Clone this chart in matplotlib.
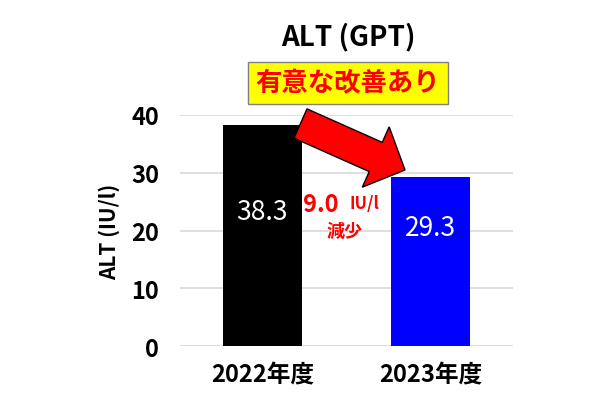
import matplotlib
matplotlib.use('Agg')
import matplotlib.pyplot as plt
from matplotlib.patches import FancyArrow

plt.rcParams['font.family'] = ['Noto Sans CJK JP', 'DejaVu Sans']

years = ['2022年度', '2023年度']
alt_values = [38.3, 29.3]
bar_colors = ['#000000', '#0000FF']
yticks = [0, 10, 20, 30, 40]
label_frac = [0.61, 0.70]

fig = plt.figure(figsize=(6, 4.06), dpi=100)
ax = fig.add_axes([0.30, 0.1453, 0.555, 0.569])

x = list(range(len(years)))
bars = ax.bar(x, alt_values, width=0.47, color=bar_colors, zorder=3)

for b, v, f in zip(bars, alt_values, label_frac):
    ax.text(b.get_x() + b.get_width() / 2, v * f, '%.1f' % v,
            ha='center', va='center', color='white', fontsize=19, zorder=4)

ax.set_xlim(-0.49, 1.49)
ax.set_ylim(0, 40)
ax.set_yticks(yticks)
ax.set_xticks(x)
ax.set_xticklabels(years, fontsize=17, fontweight='bold')
ax.set_yticklabels([str(t) for t in yticks], fontsize=17, fontweight='bold')
ax.tick_params(axis='y', length=0, pad=15)
ax.tick_params(axis='x', length=0, pad=12)
ax.grid(axis='y', color='#d9d9d9', linewidth=1.2, zorder=0)
for s in ax.spines.values():
    s.set_visible(False)
ax.set_ylabel('ALT (IU/l)', fontsize=15, fontweight='bold', labelpad=8)

# title
fig.text(0.58, 0.909, 'ALT (GPT)', ha='center', va='center',
         fontsize=20, fontweight='bold')

# yellow box
fig.text(0.58, 0.793, '有意な改善あり', ha='center', va='center',
         fontsize=19, fontweight='bold', color='#FF0000',
         bbox=dict(boxstyle='square,pad=0.3', facecolor='#FFFF00',
                   edgecolor='#808080', linewidth=1))

# red arrow (pixel coords -> inches)
def px(xp, yp):
    return xp / 100.0, (406 - yp) / 100.0

tx, ty = px(300.5, 124.5)
hx, hy = px(405, 171)
arrow = FancyArrow(tx, ty, hx - tx, hy - ty, width=0.32, head_width=0.66,
                   head_length=0.32, length_includes_head=True,
                   facecolor='#FF0000', edgecolor='#000000', linewidth=1,
                   transform=fig.dpi_scale_trans, zorder=10)
fig.patches.append(arrow)

# difference annotation
diff = alt_values[0] - alt_values[1]
fig.text(0.535, 0.495, '%.1f' % diff, ha='center', va='center',
         fontsize=17, fontweight='bold', color='#FF0000')
fig.text(0.608, 0.497, 'IU/l', ha='center', va='center',
         fontsize=12, fontweight='bold', color='#FF0000')
fig.text(0.575, 0.429, '減少', ha='center', va='center',
         fontsize=13, fontweight='bold', color='#FF0000')

fig.savefig('out.png', dpi=100)
